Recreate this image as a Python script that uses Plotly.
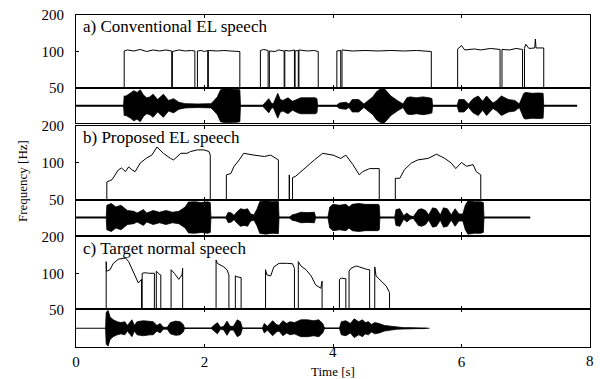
import math
import plotly.graph_objects as go

# ---------------- data ----------------
panel_labels = ["a) Conventional EL speech", "b) Proposed EL speech", "c) Target normal speech"]
x_ticks = [0, 2, 4, 6, 8]
x_ticktext = ["0", "2", "", "6", ""]   # "4" (raised) and "8" (edge) are placed as text below
x_raised_tick = 4
x_edge_tick = 8
y_ticks = [50, 100, 200]

# Pitch contours (time [s], F0 [Hz]) - one list per voiced segment
a_pitch_t = [
    [0.75, 0.8, 0.9, 1.0, 1.1, 1.2, 1.3, 1.4, 1.49],
    [1.50, 1.6, 1.7, 1.8, 1.85],
    [1.89, 1.95, 2.0, 2.05],
    [2.06, 2.2, 2.3, 2.4, 2.55],
    [2.87, 2.92, 2.99],
    [3.01, 3.1, 3.15, 3.24],
    [3.25, 3.33, 3.40],
    [3.41, 3.46],
    [3.47, 3.6, 3.7, 3.77],
    [4.06, 4.12],
    [4.14, 4.3, 4.5, 4.7, 4.9, 5.1, 5.3, 5.53],
    [5.94, 6.0, 6.05, 6.2, 6.3, 6.45, 6.6],
    [6.63, 6.75, 6.85, 6.95],
    [6.98, 7.0, 7.05, 7.14, 7.15, 7.16, 7.28],
]
a_pitch_f = [
    [101, 103, 101, 104, 100, 103, 101, 103, 101],
    [100, 103, 101, 102, 101],
    [101, 102, 100, 102],
    [102, 101, 102, 101, 100],
    [102, 104, 102],
    [101, 100, 103, 101],
    [102, 101, 103],
    [101, 102],
    [103, 101, 102, 100],
    [101, 102],
    [103, 101, 102, 101, 102, 101, 102, 100],
    [105, 112, 103, 105, 103, 106, 104],
    [104, 103, 106, 104],
    [106, 115, 106, 107, 127, 107, 107],
]
b_pitch_t = [
    [0.48, 0.56, 0.66, 0.71, 0.77, 0.82, 0.87, 0.92, 1.0, 1.10, 1.18, 1.26, 1.36, 1.47, 1.52,
     1.63, 1.73, 1.78, 1.89, 1.99, 2.07, 2.09],
    [2.34, 2.41, 2.46, 2.54, 2.61, 2.77, 2.93, 3.03, 3.14, 3.15],
    [3.32],
    [3.37, 3.42, 3.5, 3.6, 3.71, 3.84, 4.0, 4.12, 4.2, 4.31, 4.41, 4.46, 4.57, 4.72],
    [4.97, 5.04, 5.11, 5.22, 5.32, 5.48, 5.61, 5.74, 5.84, 5.91, 6.0, 6.08, 6.18, 6.23, 6.30],
]
b_pitch_f = [
    [70, 73, 88, 91, 85, 93, 88, 85, 100, 110, 116, 135, 120, 109, 106,
     120, 120, 124, 128, 128, 124, 116],
    [80, 82, 94, 106, 120, 116, 113, 116, 106, 106],
    [80],
    [76, 78, 85, 94, 106, 120, 116, 109, 116, 97, 80, 85, 90, 90],
    [75, 75, 88, 100, 106, 109, 118, 109, 100, 90, 101, 94, 97, 85, 80],
]
c_pitch_t = [
    [0.47, 0.475, 0.53, 0.58, 0.66, 0.77, 0.82, 0.90, 0.97, 1.02],
    [1.03, 1.08, 1.13, 1.22],
    [1.25, 1.31, 1.32],
    [1.48, 1.53, 1.6, 1.65, 1.66],
    [2.18, 2.2, 2.25, 2.3, 2.35, 2.38],
    [2.48, 2.52, 2.57],
    [2.95, 2.97, 3.03, 3.08, 3.16, 3.29, 3.37, 3.40],
    [3.46, 3.5, 3.58, 3.66, 3.73, 3.81, 3.83],
    [4.10, 4.13, 4.2],
    [4.25, 4.28, 4.36, 4.41, 4.46, 4.52, 4.57],
    [4.65, 4.67, 4.75, 4.83, 4.88],
]
c_pitch_f = [
    [125, 104, 107, 121, 131, 134, 125, 100, 83, 89],
    [100, 101, 100, 100],
    [104, 97, 97],
    [107, 100, 89, 97, 110],
    [129, 121, 117, 113, 107, 97],
    [95, 93, 92],
    [107, 97, 95, 113, 121, 121, 120, 110],
    [125, 115, 107, 95, 80, 75, 86],
    [89, 91, 90],
    [104, 110, 115, 113, 110, 108, 107],
    [113, 95, 86, 78, 69],
]

# Waveform envelopes (time [s], normalised amplitude)
a_wave_t = [0.74, 0.75, 0.78, 0.85, 0.9, 0.95, 1.0, 1.05, 1.1, 1.15, 1.2, 1.27, 1.36, 1.44, 1.52, 1.6,
            1.7, 1.9, 2.1, 2.15, 2.2, 2.25, 2.3, 2.4, 2.5, 2.55, 2.56, 2.9, 2.95, 3.0, 3.04, 3.07,
            3.14, 3.18, 3.22, 3.3, 3.37, 3.45, 3.5, 3.6, 3.72, 3.75, 3.76, 4.05, 4.1, 4.2, 4.25,
            4.3, 4.4, 4.48, 4.55, 4.62, 4.68, 4.74, 4.79, 4.84, 4.9, 5.0, 5.09, 5.15, 5.2, 5.3,
            5.4, 5.5, 5.54, 5.55, 5.93, 5.96, 6.04, 6.11, 6.18, 6.26, 6.33, 6.39, 6.49, 6.55,
            6.62, 6.73, 6.83, 6.9, 6.97, 7.0, 7.1, 7.2, 7.27, 7.28]
a_wave_amp = [0, 0.55, 0.55, 0.7, 0.85, 0.75, 0.9, 0.6, 0.45, 0.5, 0.65, 0.35, 0.65, 0.3, 0.4, 0.2,
              0.12, 0.1, 0.12, 0.3, 0.5, 0.9, 0.95, 0.95, 0.93, 0.9, 0, 0, 0.2, 0.4, 0.15, 0.1,
              0.7, 0.35, 0.3, 0.45, 0.25, 0.4, 0.45, 0.45, 0.45, 0.4, 0, 0, 0.15, 0.2, 0.1,
              0.35, 0.35, 0.1, 0.3, 0.5, 0.8, 0.95, 1.0, 0.8, 0.55, 0.3, 0.1, 0.45, 0.5, 0.45,
              0.5, 0.45, 0.4, 0, 0, 0.35, 0.35, 0.1, 0.4, 0.55, 0.25, 0.55, 0.15, 0.3,
              0.55, 0.35, 0.3, 0.1, 0.7, 0.75, 0.7, 0.72, 0.7, 0]
a_wave_end = 7.8

b_wave_t = [0.47, 0.48, 0.55, 0.62, 0.7, 0.8, 0.9, 0.95, 1.05, 1.1, 1.2, 1.3, 1.4, 1.5, 1.6, 1.7,
            1.75, 1.85, 1.95, 2.05, 2.09, 2.1, 2.33, 2.37, 2.42, 2.46, 2.5, 2.56, 2.62, 2.67, 2.72,
            2.77, 2.82, 2.86, 2.95, 3.05, 3.15, 3.16, 3.32, 3.36, 3.42, 3.5, 3.6, 3.71, 3.73,
            3.92, 3.95, 4.0, 4.1, 4.2, 4.25, 4.3, 4.4, 4.5, 4.6, 4.7, 4.72, 4.73, 4.96, 4.98,
            5.04, 5.1, 5.15, 5.2, 5.25, 5.33, 5.38, 5.44, 5.49, 5.55, 5.61, 5.67, 5.72, 5.78,
            5.84, 5.9, 5.96, 6.02, 6.06, 6.1, 6.2, 6.3, 6.34, 6.35]
b_wave_amp = [0, 0.7, 0.8, 0.6, 0.7, 0.4, 0.35, 0.25, 0.45, 0.25, 0.4, 0.3, 0.4, 0.3, 0.35, 0.6,
              0.88, 0.9, 0.85, 0.9, 0.85, 0, 0, 0.3, 0.25, 0.12, 0.3, 0.5, 0.45, 0.5, 0.2,
              0.15, 0.5, 0.9, 0.95, 0.9, 0.92, 0, 0, 0.15, 0.2, 0.3, 0.28, 0.3, 0,
              0, 0.6, 0.75, 0.7, 0.75, 0.6, 0.75, 0.8, 0.75, 0.75, 0.75, 0.7, 0, 0, 0.45,
              0.5, 0.1, 0.25, 0.1, 0.05, 0.45, 0.5, 0.4, 0.15, 0.55, 0.5, 0.15, 0.55, 0.5,
              0.15, 0.5, 0.2, 0.2, 0.7, 0.95, 0.9, 0.9, 0.85, 0]
b_wave_end = 7.07

c_wave_t = [0.46, 0.47, 0.5, 0.53, 0.58, 0.64, 0.7, 0.76, 0.8, 0.87, 0.91, 0.95, 1.05, 1.15, 1.2,
            1.26, 1.31, 1.36, 1.42, 1.47, 1.55, 1.62, 1.67, 1.69, 2.1, 2.13, 2.2, 2.25, 2.3, 2.35,
            2.4, 2.45, 2.51, 2.56, 2.59, 2.9, 2.93, 2.98, 3.06, 3.12, 3.16, 3.22, 3.28, 3.33,
            3.4, 3.5, 3.6, 3.7, 3.78, 3.84, 3.87, 4.1, 4.13, 4.2, 4.27, 4.33, 4.4, 4.46, 4.5,
            4.55, 4.6, 4.65, 4.72, 4.8, 4.9, 5.0, 5.1, 5.2, 5.3, 5.4, 5.45]
c_wave_amp = [0, 0.85, 0.95, 0.6, 0.45, 0.35, 0.3, 0.35, 0.15, 0.45, 0.15, 0.35, 0.4, 0.35, 0.35,
              0.15, 0.25, 0.05, 0.05, 0.3, 0.38, 0.35, 0.2, 0, 0, 0.1, 0.3, 0.05, 0.1, 0.38,
              0.1, 0.1, 0.45, 0.35, 0, 0, 0.25, 0.1, 0.4, 0.2, 0.15, 0.4, 0.25, 0.35,
              0.3, 0.45, 0.45, 0.4, 0.45, 0.25, 0, 0, 0.35, 0.4, 0.25, 0.5, 0.35, 0.45, 0.3,
              0.35, 0.2, 0.3, 0.25, 0.15, 0.1, 0.05, 0.03, 0.03, 0.02, 0.02, 0]
c_wave_end = 5.5

pitch_sets = [(a_pitch_t, a_pitch_f), (b_pitch_t, b_pitch_f), (c_pitch_t, c_pitch_f)]
wave_sets = [(a_wave_t, a_wave_amp, a_wave_end, 2.2),
             (b_wave_t, b_wave_amp, b_wave_end, 2.2),
             (c_wave_t, c_wave_amp, c_wave_end, 1.1)]

# ---------------- layout helpers ----------------
FONT = "Liberation Serif"
F_MIN = 50
X_MAX = 8
pitch_dom = [[0.7801, 1.0], [0.4428, 0.6657], [0.1130, 0.3313]]
wave_dom = [[0.6732, 0.7801], [0.3373, 0.4428], [0.0, 0.1130]]

fig = go.Figure()

for i in range(3):
    pa = 2 * i + 1
    wa = 2 * i + 2
    ts, fs = pitch_sets[i]
    xs, ys = [], []
    for seg_t, seg_f in zip(ts, fs):
        xs += [seg_t[0]] + seg_t + [seg_t[-1], None]
        ys += [F_MIN] + seg_f + [F_MIN, None]
    fig.add_trace(go.Scatter(x=xs, y=ys, mode="lines", line=dict(color="black", width=1),
                             xaxis=f"x{pa}", yaxis=f"y{pa}", showlegend=False, hoverinfo="skip",
                             connectgaps=False))
    wt, wamp, wend, lw = wave_sets[i]
    fig.add_trace(go.Scatter(x=[0, wend], y=[0, 0], mode="lines",
                             line=dict(color="black", width=lw),
                             xaxis=f"x{wa}", yaxis=f"y{wa}", showlegend=False, hoverinfo="skip"))
    px = list(wt) + list(wt)[::-1]
    py = list(wamp) + [-v for v in wamp][::-1]
    fig.add_trace(go.Scatter(x=px, y=py, mode="lines", fill="toself", fillcolor="black",
                             line=dict(color="black", width=0.8),
                             xaxis=f"x{wa}", yaxis=f"y{wa}", showlegend=False, hoverinfo="skip"))

layout = dict(
    width=600, height=379,
    margin=dict(l=76, r=10, t=15, b=32, autoexpand=False),
    paper_bgcolor="white", plot_bgcolor="white",
    font=dict(family=FONT, size=14, color="black"),
    showlegend=False,
)

xbase = dict(range=[0, X_MAX], domain=[0, 1], showline=True, linecolor="black", linewidth=1,
             mirror="ticks", ticks="inside", ticklen=3, tickcolor="black", tickvals=x_ticks,
             showgrid=False, zeroline=False, automargin=False)

for i in range(3):
    pa = 2 * i + 1
    wa = 2 * i + 2
    layout[f"xaxis{pa}"] = dict(xbase, anchor=f"y{pa}", showticklabels=False)
    layout[f"xaxis{wa}"] = dict(xbase, anchor=f"y{wa}", showticklabels=(i == 2),
                                ticktext=x_ticktext, ticklabeloverflow="allow",
                                ticklabelstandoff=1, tickfont=dict(size=15, family=FONT))
    layout[f"yaxis{pa}"] = dict(type="log", range=[math.log10(49.9), math.log10(200.5)],
                                domain=pitch_dom[i], anchor=f"x{pa}",
                                tickvals=y_ticks, ticktext=[str(v) for v in y_ticks],
                                ticks="inside", ticklen=3, tickcolor="black",
                                showline=True, linecolor="black", linewidth=1, mirror=True,
                                showgrid=False, zeroline=False, ticklabelstandoff=8,
                                automargin=False, tickfont=dict(size=15, family=FONT))
    layout[f"yaxis{wa}"] = dict(range=[-1.0, 1.0], domain=wave_dom[i], anchor=f"x{wa}",
                                showticklabels=False, ticks="", showline=True,
                                linecolor="black", linewidth=1, mirror=True,
                                showgrid=False, zeroline=False, automargin=False)

fig.update_layout(**layout)

annotations = []
for i in range(3):
    annotations.append(dict(text=panel_labels[i], xref="paper", yref="paper",
                            x=0.009, y=pitch_dom[i][1], xanchor="left", yanchor="top",
                            showarrow=False, font=dict(size=17, family=FONT)))
annotations.append(dict(text=str(x_raised_tick), xref="paper", yref="paper",
                        x=x_raised_tick / X_MAX, y=-0.014, xanchor="center", yanchor="middle",
                        showarrow=False, borderpad=0, font=dict(size=15, family=FONT)))
annotations.append(dict(text=str(x_edge_tick), xref="paper", yref="paper",
                        x=x_edge_tick / X_MAX, y=-0.042, xanchor="center", yanchor="middle",
                        showarrow=False, borderpad=0, font=dict(size=15, family=FONT)))
annotations.append(dict(text="Time [s]", xref="paper", yref="paper", x=0.5, y=-0.075,
                        xanchor="center", yanchor="middle", showarrow=False, borderpad=0,
                        font=dict(size=13, family=FONT)))
annotations.append(dict(text="Frequency [Hz]", xref="paper", yref="paper", x=-0.105, y=0.5,
                        xanchor="center", yanchor="middle", textangle=-90, showarrow=False,
                        font=dict(size=13, family=FONT)))
fig.update_layout(annotations=annotations)

fig.write_html("out.html", config={"displayModeBar": False},
               post_script="document.body.style.margin='0px';document.body.style.overflow='hidden';")
